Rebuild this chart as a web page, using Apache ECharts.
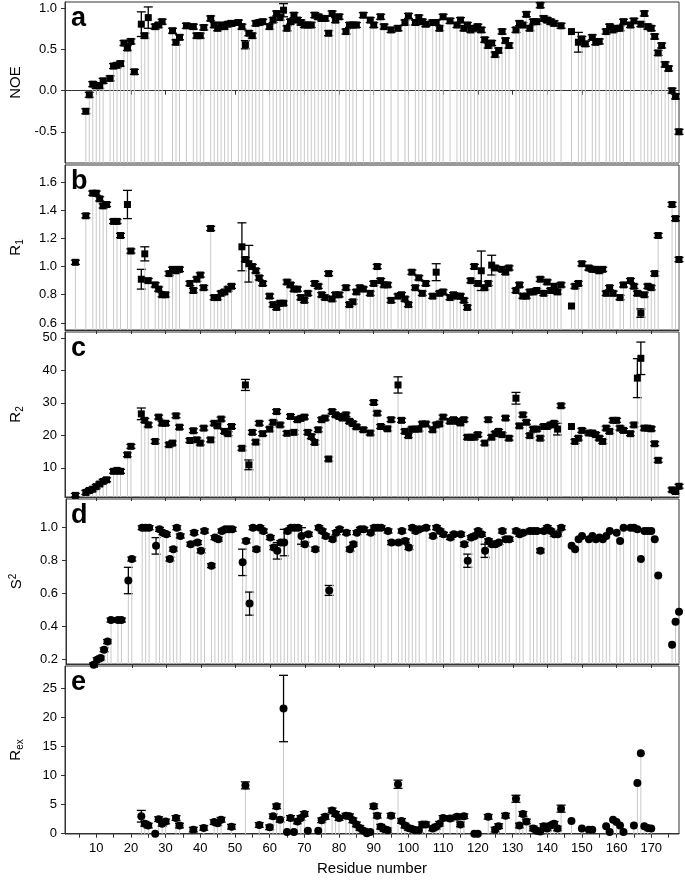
<!DOCTYPE html>
<html>
<head>
<meta charset="utf-8">
<script src="https://cdn.jsdelivr.net/npm/echarts@6/dist/echarts.min.js"></script>
<style>html,body{margin:0;padding:0;background:#fff}#main{width:685px;height:880px}</style>
</head>
<body>
<div id="main"></div>
<script>
// [residue, value]
var noePoints = [
  [7,-0.25],[8,-0.05],[9,0.08],[10,0.06],[11,0.06],[12,0.12],[14,0.15],[15,0.30],[16,0.31],[17,0.33],
  [18,0.58],[19,0.52],[20,0.60],[21,0.23],[23,0.81],[24,0.67],[25,0.89],[27,0.78],[28,0.80],[29,0.84],
  [32,0.73],[33,0.59],[34,0.65],[36,0.79],[38,0.78],[39,0.67],[40,0.67],[41,0.77],[43,0.88],[44,0.80],
  [45,0.76],[46,0.80],[47,0.78],[48,0.81],[49,0.82],[51,0.83],[52,0.78],[53,0.56],[54,0.70],[55,0.67],
  [56,0.82],[57,0.83],[58,0.84],[60,0.78],[61,0.86],[62,0.94],[63,0.89],[64,0.98],[65,0.76],[66,0.84],
  [67,0.92],[68,0.86],[69,0.83],[70,0.80],[71,0.80],[72,0.80],[73,0.92],[74,0.90],[75,0.88],[76,0.88],
  [77,0.70],[78,0.94],[79,0.86],[80,0.90],[82,0.72],[83,0.80],[84,0.80],[85,0.80],[87,0.92],[89,0.86],
  [90,0.80],[92,0.90],[93,0.78],[95,0.74],[97,0.76],[99,0.83],[100,0.91],[102,0.83],[103,0.89],[104,0.84],
  [105,0.81],[107,0.83],[108,0.83],[109,0.76],[110,0.90],[112,0.85],[114,0.80],[115,0.86],[116,0.76],[117,0.80],
  [118,0.74],[119,0.76],[120,0.78],[121,0.74],[122,0.62],[123,0.55],[124,0.58],[125,0.44],[126,0.49],[127,0.72],
  [128,0.61],[129,0.55],[131,0.74],[132,0.82],[133,0.80],[134,0.93],[135,0.76],[136,0.84],[137,0.84],[138,1.04],
  [139,0.88],[140,0.86],[141,0.84],[142,0.82],[144,0.79],[147,0.72],[149,0.59],[150,0.63],[151,0.57],[153,0.65],
  [154,0.59],[155,0.60],[157,0.72],[158,0.78],[159,0.74],[160,0.76],[161,0.76],[162,0.84],[164,0.80],[165,0.85],
  [167,0.81],[168,0.94],[169,0.78],[170,0.76],[171,0.66],[172,0.46],[173,0.55],[174,0.32],[175,0.27],[176,0.00],
  [177,-0.07],[178,-0.50]
];
var noeErrBig = {23: 0.15, 25: 0.13, 64: 0.08, 53: 0.05, 149: 0.12, 147: 0};

var r1Points = [
  [4,1.03],[7,1.36],[9,1.52],[10,1.52],[11,1.48],[12,1.43],[13,1.44],[15,1.32],[16,1.32],[17,1.22],
  [19,1.44],[20,1.11],[23,0.91],[24,1.09],[25,0.90],[27,0.87],[28,0.84],[29,0.80],[30,0.80],[31,0.95],
  [32,0.98],[33,0.97],[34,0.98],[37,0.88],[38,0.83],[39,0.91],[40,0.94],[41,0.85],[43,1.27],[44,0.78],
  [45,0.78],[46,0.81],[47,0.82],[48,0.84],[49,0.86],[52,1.14],[53,1.05],[54,1.02],[55,1.00],[56,0.97],
  [57,0.92],[58,0.88],[60,0.79],[61,0.73],[62,0.71],[63,0.74],[64,0.74],[65,0.89],[66,0.87],[67,0.84],
  [68,0.84],[69,0.78],[70,0.76],[71,0.81],[73,0.88],[74,0.86],[75,0.80],[76,0.78],[77,0.95],[78,0.77],
  [79,0.80],[80,0.80],[82,0.85],[83,0.73],[84,0.75],[85,0.82],[86,0.85],[87,0.84],[89,0.81],[90,0.88],
  [91,1.00],[92,0.90],[93,0.87],[94,0.87],[95,0.76],[97,0.79],[98,0.80],[99,0.77],[100,0.73],[101,0.96],
  [102,0.85],[103,0.92],[104,0.81],[105,0.88],[107,0.79],[108,0.96],[109,0.81],[110,0.82],[112,0.78],[113,0.80],
  [114,0.79],[115,0.79],[116,0.76],[117,0.71],[118,0.90],[119,1.00],[120,0.88],[121,0.97],[122,0.85],[123,0.88],
  [124,1.01],[125,0.99],[127,0.98],[128,0.96],[129,0.99],[131,0.83],[132,0.87],[133,0.79],[134,0.79],[135,0.82],
  [136,0.82],[137,0.83],[138,0.91],[139,0.81],[140,0.89],[141,0.83],[142,0.86],[143,0.82],[144,0.87],[147,0.72],
  [148,0.86],[149,0.88],[150,1.02],[152,0.99],[153,0.98],[154,0.98],[155,0.97],[156,0.98],[157,0.81],[158,0.85],
  [159,0.81],[161,0.78],[162,0.87],[164,0.90],[165,0.86],[166,0.81],[167,0.67],[168,0.80],[169,0.86],[170,0.85],
  [171,0.95],[172,1.22],[176,1.44],[177,1.34],[178,1.05]
];
var r1ErrBig = {19: 0.1, 23: 0.07, 24: 0.05, 52: 0.17, 54: 0.13, 121: 0.14, 124: 0.07, 108: 0.06, 167: 0.03, 147: 0};

var r2Points = [
  [4,1.5],[7,2.4],[8,3.0],[9,3.4],[10,4.2],[11,5.0],[12,5.8],[13,6.3],[15,8.9],[16,9.2],
  [17,8.9],[19,14.0],[20,16.6],[23,26.6],[24,24.6],[25,23.2],[27,18.1],[28,25.6],[29,23.7],[30,23.7],
  [31,17.1],[32,17.6],[33,26.0],[34,22.5],[37,18.4],[38,21.4],[39,18.6],[40,17.6],[41,22.2],[43,18.6],
  [44,23.7],[45,22.9],[46,25.0],[47,21.2],[48,20.5],[49,22.7],[52,16.0],[53,35.5],[54,10.9],[55,20.9],
  [56,17.9],[57,23.7],[58,20.5],[60,21.9],[61,24.0],[62,27.3],[63,23.2],[65,20.6],[66,25.8],[67,20.9],
  [68,24.8],[69,25.2],[70,25.6],[71,20.9],[72,19.6],[73,17.8],[74,21.7],[75,24.8],[76,25.3],[77,12.7],
  [78,27.3],[79,26.3],[80,25.8],[81,25.3],[82,26.3],[83,24.3],[84,23.6],[85,22.6],[87,21.7],[89,20.7],
  [90,30.1],[91,26.8],[92,22.7],[94,22.0],[95,24.8],[97,35.5],[98,24.6],[99,21.2],[100,19.9],[101,21.9],
  [102,21.9],[103,21.9],[104,23.5],[105,23.5],[107,21.7],[108,23.2],[109,23.5],[110,25.6],[112,24.3],[113,24.8],
  [114,24.3],[115,23.8],[116,24.8],[117,19.4],[118,19.4],[119,19.4],[120,20.2],[122,17.6],[123,24.8],[124,19.4],
  [125,20.5],[126,21.2],[127,20.2],[128,25.3],[129,19.1],[131,31.4],[132,22.9],[133,26.3],[134,24.0],[135,19.9],
  [136,21.9],[137,21.9],[138,19.1],[139,22.7],[140,22.7],[141,23.2],[142,23.7],[143,21.9],[144,29.1],[147,22.7],
  [148,18.1],[149,19.1],[150,21.5],[152,20.7],[153,20.7],[154,20.2],[155,19.1],[156,18.1],[157,22.2],[158,21.2],
  [159,24.6],[160,24.6],[161,22.2],[162,21.5],[164,20.5],[165,23.2],[166,37.6],[167,43.7],[168,22.2],[169,22.2],
  [170,22.0],[171,17.4],[172,12.3],[176,3.2],[177,2.7],[178,4.3]
];
var r2ErrBig = {23: 1.8, 53: 1.7, 54: 1.5, 97: 2.5, 131: 1.8, 143: 1.8, 166: 6.0, 167: 5.0, 147: 0};

var s2Points = [
  [9,0.17],[10,0.20],[11,0.21],[12,0.26],[13,0.31],[14,0.44],[16,0.44],[17,0.44],[19,0.68],[20,0.81],
  [23,1.00],[24,1.00],[25,1.00],[27,0.89],[28,0.99],[29,0.97],[30,0.96],[31,0.81],[32,0.87],[33,1.00],
  [34,0.95],[37,0.90],[38,0.97],[39,0.91],[40,0.86],[41,0.98],[43,0.77],[44,0.94],[45,0.93],[46,0.98],
  [47,0.99],[48,0.99],[49,0.99],[52,0.79],[53,0.92],[54,0.54],[55,1.00],[56,0.87],[57,1.00],[58,0.98],
  [60,0.94],[61,0.88],[62,0.86],[63,0.91],[64,0.91],[65,0.98],[66,1.00],[67,1.00],[68,1.00],[69,0.95],
  [70,0.90],[71,0.96],[73,0.87],[74,1.00],[75,0.98],[76,0.95],[77,0.62],[78,0.93],[79,0.97],[80,0.99],
  [82,0.97],[83,0.87],[84,0.90],[85,0.97],[86,0.99],[87,0.99],[89,0.97],[90,1.00],[91,1.00],[92,1.00],
  [94,0.98],[95,0.91],[97,0.91],[98,0.98],[99,0.92],[100,0.88],[101,1.00],[102,0.98],[103,0.99],[105,1.00],
  [107,0.95],[108,1.00],[109,0.98],[110,0.96],[112,0.94],[113,0.96],[115,0.96],[116,0.90],[117,0.80],[118,0.94],
  [119,0.95],[120,0.98],[121,0.96],[122,0.86],[123,0.92],[124,0.90],[125,0.90],[126,0.91],[127,0.98],[128,0.93],
  [129,0.93],[131,0.98],[132,0.96],[133,0.97],[135,0.98],[136,0.98],[137,0.98],[138,0.86],[139,0.98],[140,1.00],
  [141,0.98],[142,0.96],[143,0.96],[144,1.00],[147,0.89],[148,0.87],[149,0.93],[150,0.95],[152,0.93],[153,0.95],
  [154,0.93],[155,0.94],[156,0.93],[157,0.95],[158,0.98],[160,0.97],[161,0.92],[162,1.00],[164,1.00],[165,1.00],
  [166,0.99],[167,0.81],[168,0.98],[169,0.98],[170,0.98],[171,0.93],[172,0.71],[176,0.29],[177,0.43],[178,0.49]
];
var s2ErrBig = {19: 0.08, 27: 0.05, 52: 0.08, 54: 0.07, 64: 0.08, 62: 0.05, 69: 0.05, 77: 0.03, 117: 0.04, 122: 0.04};

var rexPoints = [
  [23,3.0],[24,1.7],[25,1.4],[27,0.0],[28,2.5],[29,1.7],[30,2.1],[33,2.7],[34,1.4],[38,0.7],
  [41,1.0],[44,2.0],[45,1.8],[46,2.4],[49,1.2],[53,8.3],[57,1.5],[60,1.1],[61,3.0],[62,4.7],
  [63,2.4],[64,21.5],[65,0.3],[66,2.7],[67,0.3],[68,2.1],[69,2.7],[70,3.4],[71,0.5],[74,0.5],
  [75,2.3],[76,2.9],[78,4.0],[79,3.4],[80,2.7],[82,3.1],[83,3.0],[84,2.3],[85,1.6],[86,1.0],
  [87,0.5],[88,0.1],[89,0.3],[90,4.7],[91,3.1],[92,1.2],[93,0.8],[94,0.6],[95,3.1],[97,8.5],
  [98,2.2],[99,1.4],[100,1.0],[101,0.8],[102,0.6],[103,0.6],[104,1.6],[105,1.6],[107,0.9],[108,1.2],
  [109,1.7],[110,2.7],[112,2.6],[114,2.9],[115,1.6],[116,3.0],[119,0.0],[120,0.0],[123,2.9],[125,0.7],
  [126,1.3],[128,3.1],[131,6.0],[132,1.4],[133,3.4],[134,2.1],[136,0.9],[137,0.5],[138,0.4],[139,1.3],
  [140,0.9],[141,1.4],[142,1.7],[143,0.9],[144,4.3],[147,2.2],[150,0.9],[152,0.7],[153,0.7],[157,1.3],
  [158,0.3],[159,2.4],[160,2.0],[161,1.4],[162,0.3],[165,1.4],[166,8.7],[167,13.8],[168,1.3],[169,1.0],
  [170,0.9]
];
var rexErrBig = {23: 1.0, 53: 0.6, 64: 5.7, 97: 0.7, 131: 0.6, 144: 0.6, 27: 0, 65: 0, 67: 0, 71: 0, 74: 0, 88: 0, 89: 0, 119: 0, 120: 0};

var xTicks10 = [10,20,30,40,50,60,70,80,90,100,110,120,130,140,150,160,170];
var xTicks5 = [5,10,15,20,25,30,35,40,45,50,55,60,65,70,75,80,85,90,95,100,105,110,115,120,125,130,135,140,145,150,155,160,165,170,175];

var panels = [
  {letter: 'a', name: 'NOE', pts: noePoints, defErr: 0.03, big: noeErrBig, errFrom: 999, sym: 'rect',
   min: -0.88, max: 1.08, ticks: [-0.5, 0, 0.5, 1.0], dec: 1, top: 2, h: 161},
  {letter: 'b', name: 'R{sub|1}', pts: r1Points, defErr: 0.015, big: r1ErrBig, errFrom: 999, sym: 'rect',
   min: 0.55, max: 1.72, ticks: [0.6, 0.8, 1.0, 1.2, 1.4, 1.6], dec: 1, top: 165, h: 165},
  {letter: 'c', name: 'R{sub|2}', pts: r2Points, defErr: 0.6, big: r2ErrBig, errFrom: 999, sym: 'rect',
   min: 1, max: 51.8, ticks: [10, 20, 30, 40, 50], dec: 0, top: 332, h: 165},
  {letter: 'd', name: 'S{sup|2}', pts: s2Points, defErr: 0.012, big: s2ErrBig, errFrom: 146, sym: 'circle',
   min: 0.174, max: 1.174, ticks: [0.2, 0.4, 0.6, 0.8, 1.0], dec: 1, top: 499, h: 165},
  {letter: 'e', name: 'R{sub|ex}', pts: rexPoints, defErr: 0.4, big: rexErrBig, errFrom: 146, sym: 'circle',
   min: -0.05, max: 28.8, ticks: [0, 5, 10, 15, 20, 25], dec: 0, top: 666, h: 168}
];

var font = 'Liberation Sans, Arial, sans-serif';
var grids = [], xAxes = [], yAxes = [], series = [], graphics = [];

function renderItem(params, api) {
    var x = api.value(0), y = api.value(1), e = api.value(2);
    var cs = params.coordSys;
    var p = api.coord([x, y]);
    var bottom = cs.y + cs.height;
    var kids = [{type: 'line', shape: {x1: p[0], y1: bottom, x2: p[0], y2: p[1]},
                 style: {stroke: '#c9c9c9', lineWidth: 1}}];
    if (e > 0) {
        var hi = Math.max(api.coord([x, y + e])[1], cs.y);
        var lo = Math.min(api.coord([x, y - e])[1], bottom);
        var st = {stroke: '#000', lineWidth: 1.3};
        kids.push({type: 'line', shape: {x1: p[0], y1: hi, x2: p[0], y2: lo}, style: st});
        kids.push({type: 'line', shape: {x1: p[0] - 4.5, y1: hi, x2: p[0] + 4.5, y2: hi}, style: st});
        kids.push({type: 'line', shape: {x1: p[0] - 4.5, y1: lo, x2: p[0] + 4.5, y2: lo}, style: st});
    }
    return {type: 'group', children: kids};
}

panels.forEach(function (pn, i) {
    var last = i === panels.length - 1;
    grids.push({left: 65, right: 6, top: pn.top, height: pn.h, show: true, borderColor: '#333', borderWidth: 1});
    xAxes.push({
        type: 'value', gridIndex: i, min: 1, max: 178,
        splitLine: {show: false},
        axisLine: {lineStyle: {color: '#333'}},
        axisTick: {customValues: last ? xTicks5 : xTicks10, length: 4, lineStyle: {color: '#333'}},
        axisLabel: last ? {customValues: xTicks10, color: '#000', fontSize: 13, fontFamily: font} : {show: false},
        name: last ? 'Residue number' : '', nameLocation: 'middle', nameGap: 27,
        nameTextStyle: {color: '#000', fontSize: 15, fontFamily: font}
    });
    yAxes.push({
        type: 'value', gridIndex: i, min: pn.min, max: pn.max,
        splitLine: {show: false},
        axisLine: {show: true, lineStyle: {color: '#333'}},
        axisTick: {show: true, customValues: pn.ticks, length: 4, lineStyle: {color: '#333'}},
        axisLabel: {customValues: pn.ticks, color: '#000', fontSize: 13, fontFamily: font,
            formatter: function (v) { return v.toFixed(pn.dec); }},
        name: pn.name, nameLocation: 'middle', nameRotate: 90, nameGap: 40,
        nameTextStyle: {color: '#000', fontSize: 15, fontFamily: font,
            rich: {sub: {fontSize: 10, fontFamily: font, padding: [8, 0, 0, 0]},
                   sup: {fontSize: 10, fontFamily: font, padding: [0, 0, 8, 0]}}}
    });
    var data = pn.pts.map(function (d) {
        var e = pn.big.hasOwnProperty(d[0]) ? pn.big[d[0]] : pn.defErr;
        if (d[0] >= pn.errFrom) e = 0;
        return [d[0], d[1], e];
    });
    series.push({type: 'custom', xAxisIndex: i, yAxisIndex: i, renderItem: renderItem, data: data, z: 2, silent: true});
    series.push({type: 'scatter', xAxisIndex: i, yAxisIndex: i, data: data, symbol: pn.sym,
        symbolSize: pn.sym === 'rect' ? 7 : 8, itemStyle: {color: '#000', opacity: 1}, z: 3, clip: false, silent: true});
    graphics.push({type: 'text', left: 71, top: pn.top + 3,
        style: {text: pn.letter, font: 'bold 27px ' + font, fill: '#000'}});
});

var myChart = echarts.init(document.querySelector('#main'));
myChart.setOption({
    animation: false,
    grid: grids, xAxis: xAxes, yAxis: yAxes, series: series, graphic: graphics
});
</script>
</body>
</html>
